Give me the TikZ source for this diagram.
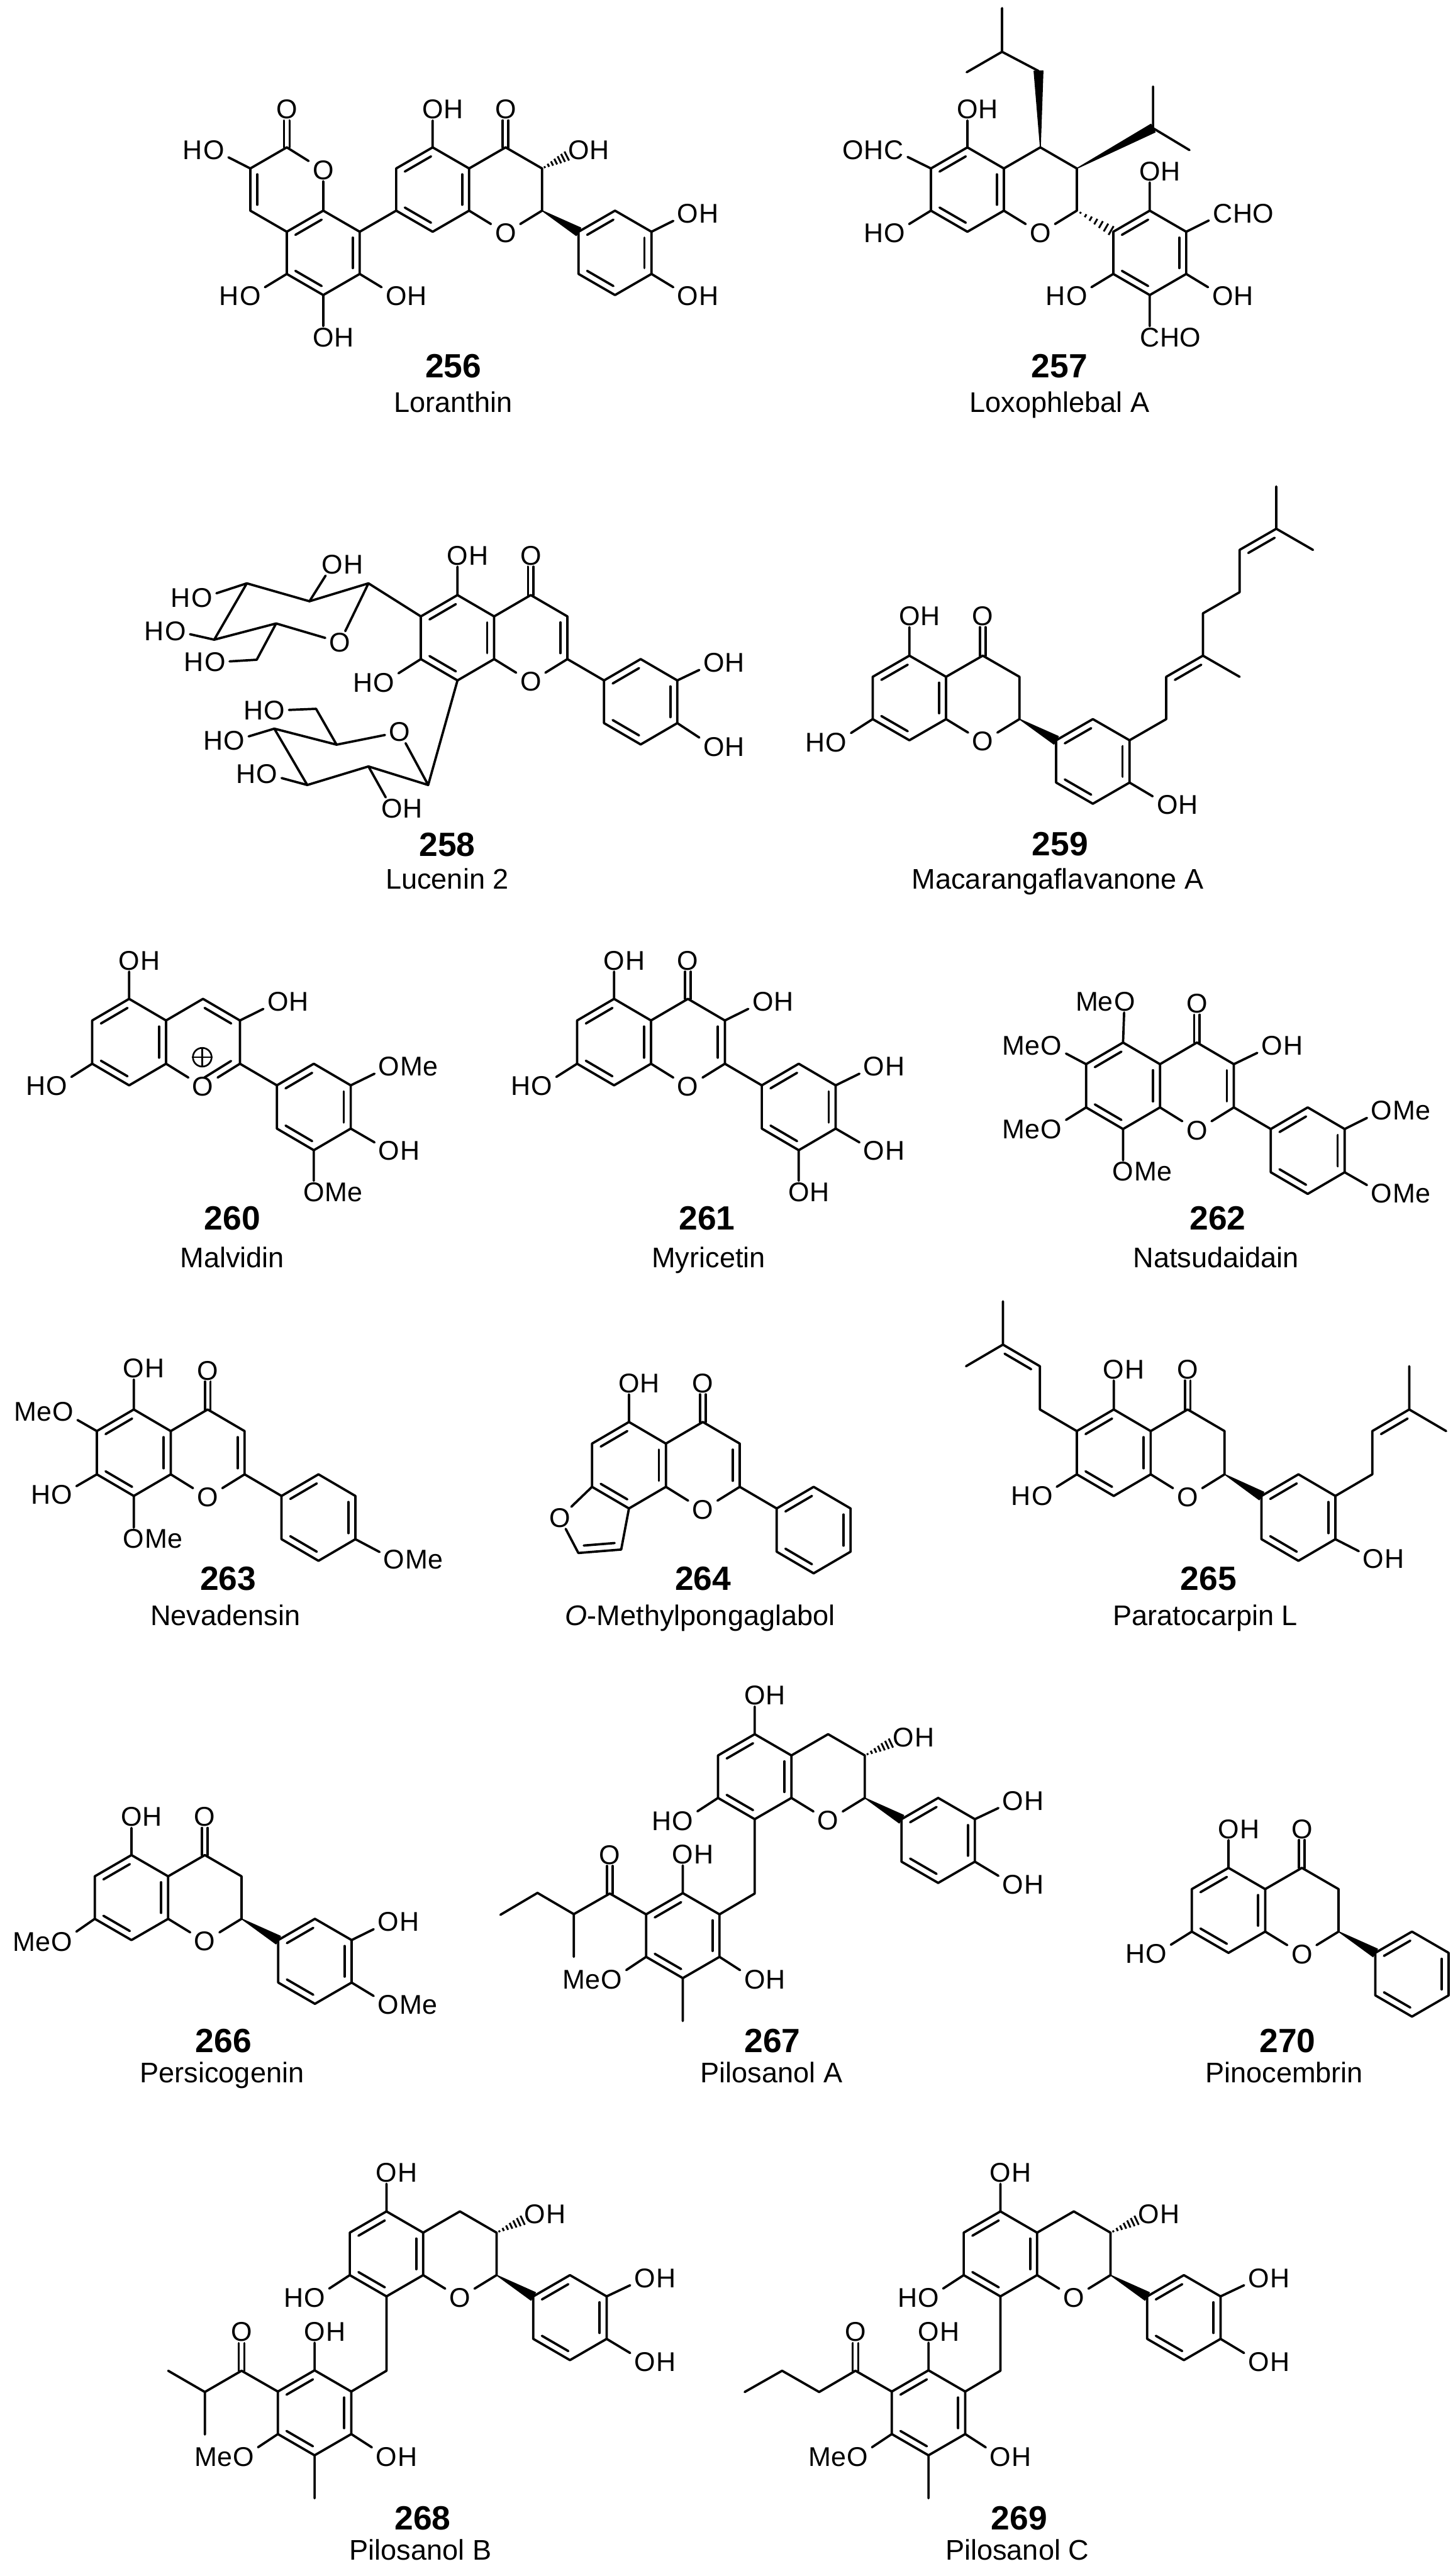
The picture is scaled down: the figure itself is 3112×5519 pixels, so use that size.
\documentclass[tikz,border=0pt]{standalone}
\usepackage{fontspec}
\setmainfont{Liberation Sans}
\usetikzlibrary{calc}
\newcommand{\atomfont}{\fontsize{14.5}{16}\selectfont}
\tikzset{
  bond/.style={line width=1.25pt,line cap=round,line join=round},
  hash/.style={line width=1pt},
  atom/.style={font=\atomfont,inner xsep=2pt,inner ysep=.6pt},
  atomlab/.style={font=\atomfont,inner sep=0pt},
  numlab/.style={font=\fontsize{18}{20}\selectfont\bfseries,anchor=base,inner sep=0pt},
  namelab/.style={font=\fontsize{15.2}{17}\selectfont,anchor=base,inner sep=0pt},
  latA/.style={x=19.53pt,y=-11.3pt},
  latB/.style={x=19.78pt,y=-11.58pt},
  latC/.style={x=19.62pt,y=-11.43pt},
  latD/.style={x=19.65pt,y=-11.33pt},
  latE/.style={x=19.65pt,y=-11.38pt}
}
\newcommand{\atm}[3]{\node at (#2) [atom] (#1) {#3};}
\newcommand{\rtxt}[2]{\node at (#1.base east) [atomlab,anchor=base west,xshift=-2pt] (#1r) {#2};}
\newcommand{\ltxt}[2]{\node at (#1.base west) [atomlab,anchor=base east,xshift=2pt] (#1l) {#2};}
\newcommand{\OH}[2]{\atm{#1}{#2}{O}\rtxt{#1}{H}}
\newcommand{\HO}[2]{\atm{#1}{#2}{O}\ltxt{#1}{H}}
\newcommand{\OMe}[2]{\atm{#1}{#2}{O}\rtxt{#1}{Me}}
\newcommand{\MeO}[2]{\atm{#1}{#2}{O}\ltxt{#1}{Me}}
\newcommand{\CHO}[2]{\atm{#1}{#2}{C}\rtxt{#1}{HO}}
\newcommand{\OHC}[2]{\atm{#1}{#2}{C}\ltxt{#1}{OH}}
\newcommand{\dbl}[2]{\draw[bond] ($(#1)!.14!(#2)!3.75pt!-90:(#2)$) -- ($(#2)!.14!(#1)!3.75pt!90:(#1)$);}
\newcommand{\cdo}[2]{%
  \draw[bond,transform canvas={xshift=1.5pt}] (#1) -- (#2);
  \draw[bond,transform canvas={xshift=-1.5pt}] (#1) -- (#2);}
\newcommand{\wedgeb}[2]{\filldraw[bond,line width=.5pt] (#1) -- ($(#2)!2.4pt!90:(#1)$) -- ($(#2)!2.4pt!-90:(#1)$) -- cycle;}
\newcommand{\hashb}[3]{%
  \foreach \t/\w in {.1/.5pt,.24/.9pt,.38/1.3pt,.52/1.7pt,.66/2.1pt,.8/2.4pt,.94/2.7pt}
    \draw[hash] ($(#1)!#3*\t!(#2)!\w!90:(#2)$) -- ($(#1)!#3*\t!(#2)!\w!-90:(#2)$);}
\newcommand{\benzene}[2]{%
  \begin{scope}[shift={(#2)}]
    \coordinate (#11) at (0,0);
    \coordinate (#12) at (1,1);
    \coordinate (#13) at (1,3);
    \coordinate (#14) at (0,4);
    \coordinate (#15) at (-1,3);
    \coordinate (#16) at (-1,1);
  \end{scope}
  \draw[bond] (#11) -- (#12) -- (#13) -- (#14) -- (#15) -- (#16) -- cycle;
  \dbl{#16}{#11} \dbl{#12}{#13} \dbl{#14}{#15}}
\newcommand{\chroman}{%
  \benzene{a}{0,0}
  \coordinate (c4) at (2,0);
  \coordinate (c3) at (3,1);
  \coordinate (c2) at (3,3);
  \atm{o1}{2,4.06}{O}
  \draw[bond] (a2) -- (c4) -- (c3) -- (c2) -- (o1) -- (a3);}
\newcommand{\ketone}[1]{\atm{o4}{2,#1}{O} \cdo{c4}{o4}}
\newcommand{\pilosanol}{%
  \chroman
  \benzene{b}{5,3}
  \wedgeb{c2}{b6}
  \OH{o5}{0,-1.82}
  \OH{o3}{4.05,.14}
  \hashb{c3}{o3}{.72}
  \HO{o7}{-1.96,4.08}
  \OH{o3p}{7.04,3.15}
  \OH{o4p}{7.04,7.08}
  \draw[bond] (a1) -- (o5) (a5) -- (o7) (b2) -- (o3p) (b3) -- (o4p);
  \coordinate (e1) at (0,7.5);
  \benzene{d}{-1.96,7.48}
  \coordinate (m1) at (-1.96,13.5);
  \coordinate (k1) at (-3.95,7.5);
  \OH{o2d}{-1.96,5.66}
  \OH{o6d}{0,11.55}
  \MeO{o4d}{-3.9,11.56}
  \atm{ok}{-3.95,5.68}{O}
  \cdo{k1}{ok}
  \draw[bond] (a4) -- (e1) -- (d2) (d1) -- (o2d) (d3) -- (o6d) (d5) -- (o4d) (d4) -- (m1) (d6) -- (k1);}

\begin{document}
\begin{tikzpicture}[x=.25pt,y=-.25pt]
  \useasboundingbox (0,0) rectangle (3112,5519);

  % Loranthin
  \begin{scope}[shift={(926.8,315.7)},latA,name prefix=m256-]
    \chroman
    \benzene{b}{5,3}
    \wedgeb{c2}{b6}
    \ketone{-1.8}
    \OH{o5}{0,-1.8}
    \OH{o3}{4,.13}
    \hashb{c3}{o3}{.72}
    \OH{o3p}{7,3.14}
    \OH{o4p}{7,7.05}
    \draw[bond] (a1) -- (o5) (b2) -- (o3p) (b3) -- (o4p);
    \benzene{d}{-3,3}
    \coordinate (e1) at (-4,0);
    \coordinate (e2) at (-5,1);
    \coordinate (e3) at (-5,3);
    \atm{o1d}{-3,1.08}{O}
    \atm{o2d}{-4,-1.8}{O}
    \HO{o3d}{-6,.12}
    \HO{o5d}{-5,7.05}
    \OH{o6d}{-3,9}
    \OH{o7d}{-1,7.05}
    \draw[bond] (a5) -- (d2) (d1) -- (o1d) -- (e1) -- (e2) -- (e3) -- (d6);
    \draw[bond] (e2) -- (o3d) (d5) -- (o5d) (d4) -- (o6d) (d3) -- (o7d);
    \dbl{e3}{e2}
    \cdo{e1}{o2d}
  \end{scope}
  \node at (971,809) [numlab] (n256) {256};
  \node at (971,883) [namelab] (t256) {Loranthin};

  % Loxophlebal A
  \begin{scope}[shift={(2072.3,315.7)},latA,name prefix=m257-]
    \chroman
    \benzene{b}{5,3}
    \hashb{c2}{b6}{1}
    \OH{o5}{0,-1.8}
    \OHC{f6}{-2.02,.13}
    \HO{o7}{-2,4.06}
    \OH{o2p}{5,1.14}
    \CHO{f3p}{7,3.14}
    \OH{o4p}{7,7.05}
    \CHO{f5p}{5,9}
    \HO{o6p}{3,7.05}
    \draw[bond] (a1) -- (o5) (a6) -- (f6) (a5) -- (o7);
    \draw[bond] (b1) -- (o2p) (b2) -- (f3p) (b3) -- (o4p) (b4) -- (f5p) (b5) -- (o6p);
    \coordinate (p1) at (1.95,-3.62);
    \coordinate (p2) at (.95,-4.53);
    \coordinate (p3) at (.95,-6.6);
    \coordinate (p4) at (-.02,-3.56);
    \wedgeb{c4}{p1}
    \draw[bond] (p1) -- (p2) -- (p3) (p2) -- (p4);
    \coordinate (q1) at (5.09,-.91);
    \coordinate (q2) at (5.09,-2.88);
    \coordinate (q3) at (6.09,.13);
    \wedgeb{c3}{q1}
    \draw[bond] (q2) -- (q1) -- (q3);
  \end{scope}
  \node at (2269.6,809) [numlab] (n257) {257};
  \node at (2269.6,883) [namelab] (t257) {Loxophlebal A};

  % Lucenin 2
  \begin{scope}[shift={(980,1274.9)},latC,name prefix=m258-]
    \chroman
    \benzene{b}{5,3}
    \dbl{c3}{c2}
    \ketone{-1.85}
    \OH{o5}{0,-1.85}
    \HO{o7}{-2.01,4.1}
    \OH{o3p}{7,3.18}
    \OH{o4p}{7,7.13}
    \draw[bond] (c2) -- (b6) (a1) -- (o5) (a5) -- (o7) (b2) -- (o3p) (b3) -- (o4p);
    \coordinate (s1) at (-2.43,-.55);
    \coordinate (s2) at (-4.04,.29);
    \coordinate (s3) at (-5.75,-.55);
    \coordinate (s4) at (-6.64,2.09);
    \coordinate (s5) at (-4.95,1.33);
    \coordinate (s6) at (-5.48,3.03);
    \atm{os}{-3.21,2.21}{O}
    \HO{o6s}{-6.62,3.15}
    \OH{o2s}{-3.41,-1.43}
    \HO{o3s}{-6.98,.14}
    \HO{o4s}{-7.7,1.68}
    \draw[bond] (a6) -- (s1) -- (s2) -- (s3) -- (s4) -- (s5) -- (os) -- (s1) (s5) -- (s6) -- (o6s);
    \draw[bond] (s2) -- (o2s) (s3) -- (o3s) (s4) -- (o4s);
    \coordinate (t1) at (-.8,8.9);
    \coordinate (t2) at (-2.43,8.03);
    \coordinate (t3) at (-4.1,8.9);
    \coordinate (t4) at (-5,6.26);
    \coordinate (t5) at (-3.3,7.01);
    \coordinate (t6) at (-3.86,5.33);
    \atm{ot}{-1.58,6.42}{O}
    \HO{o6t}{-5,5.41}
    \HO{o4t}{-6.1,6.83}
    \HO{o3t}{-5.2,8.39}
    \OH{o2t}{-1.79,10}
    \draw[bond] (a4) -- (t1) -- (t2) -- (t3) -- (t4) -- (t5) -- (ot) -- (t1) (t5) -- (t6) -- (o6t);
    \draw[bond] (t4) -- (o4t) (t3) -- (o3t) (t2) -- (o2t);
  \end{scope}
  \node at (958,1834) [numlab] (n258) {258};
  \node at (958,1904) [namelab] (t258) {Lucenin 2};

  % Macarangaflavanone A
  \begin{scope}[shift={(1948,1404.7)},latD,name prefix=m259-]
    \chroman
    \benzene{b}{5,3}
    \wedgeb{c2}{b6}
    \ketone{-1.87}
    \OH{o5}{0,-1.87}
    \HO{o7}{-1.99,4.1}
    \OH{o4p}{7.03,7.06}
    \draw[bond] (a1) -- (o5) (a5) -- (o7) (b3) -- (o4p);
    \coordinate (p1) at (7,3);
    \coordinate (p2) at (7,1);
    \coordinate (p3) at (8,0);
    \coordinate (p4) at (9,1);
    \coordinate (p5) at (8,-2);
    \coordinate (p6) at (9,-3);
    \coordinate (p7) at (9,-5);
    \coordinate (p8) at (10,-6);
    \coordinate (p9) at (10,-8);
    \coordinate (p10) at (11,-5);
    \draw[bond] (b2) -- (p1) -- (p2) -- (p3) -- (p5) -- (p6) -- (p7) -- (p8) -- (p9) (p3) -- (p4) (p8) -- (p10);
    \dbl{p2}{p3}
    \dbl{p7}{p8}
  \end{scope}
  \node at (2271,1833.5) [numlab] (n259) {259};
  \node at (2266,1904) [namelab] (t259) {Macarangaflavanone A};

  % Malvidin
  \begin{scope}[shift={(276.6,2140)},latB,name prefix=m260-]
    \chroman
    \benzene{b}{5,3}
    \dbl{c4}{c3}
    \dbl{c2}{o1}
    \node at (1.98,2.7) [circle,draw,line width=.9pt,inner sep=0pt,minimum size=10pt] (plus) {};
    \draw[line width=.9pt] (plus.north) -- (plus.south) (plus.west) -- (plus.east);
    \OH{o5}{0,-1.77}
    \OH{o3}{4.03,.13}
    \HO{o7}{-1.96,4.04}
    \OMe{o3p}{7.04,3.13}
    \OH{o4p}{7.04,7.03}
    \OMe{o5p}{5,8.93}
    \draw[bond] (c2) -- (b6) (a1) -- (o5) (c3) -- (o3) (a5) -- (o7) (b2) -- (o3p) (b3) -- (o4p) (b4) -- (o5p);
  \end{scope}
  \node at (497.5,2634.6) [numlab] (n260) {260};
  \node at (497.5,2716) [namelab] (t260) {Malvidin};

  % Myricetin
  \begin{scope}[shift={(1315.4,2140)},latB,name prefix=m261-]
    \chroman
    \benzene{b}{5,3}
    \dbl{c3}{c2}
    \ketone{-1.77}
    \OH{o5}{0,-1.77}
    \OH{o3}{4.03,.13}
    \HO{o7}{-1.96,4.04}
    \OH{o3p}{7.04,3.13}
    \OH{o4p}{7.04,7.03}
    \OH{o5p}{5,8.93}
    \draw[bond] (c2) -- (b6) (a1) -- (o5) (c3) -- (o3) (a5) -- (o7) (b2) -- (o3p) (b3) -- (o4p) (b4) -- (o5p);
  \end{scope}
  \node at (1514.5,2634.6) [numlab] (n261) {261};
  \node at (1518,2716) [namelab] (t261) {Myricetin};

  % Natsudaidain
  \begin{scope}[shift={(2405.7,2233.6)},latB,name prefix=m262-]
    \chroman
    \benzene{b}{5,3}
    \dbl{c3}{c2}
    \ketone{-1.8}
    \MeO{o5}{.04,-1.9}
    \MeO{o6}{-1.94,.15}
    \MeO{o7}{-1.94,4}
    \OMe{o8}{0,5.96}
    \OH{o3}{4.03,.15}
    \OMe{o3p}{7,3.15}
    \OMe{o4p}{7,6.98}
    \draw[bond] (c2) -- (b6) (a1) -- (o5) (a6) -- (o6) (a5) -- (o7) (a4) -- (o8) (c3) -- (o3) (b2) -- (o3p) (b3) -- (o4p);
  \end{scope}
  \node at (2608.7,2634.6) [numlab] (n262) {262};
  \node at (2605,2716) [namelab] (t262) {Natsudaidain};

  % Nevadensin
  \begin{scope}[shift={(286.6,3019.7)},latB,name prefix=m263-]
    \chroman
    \benzene{b}{5,3}
    \dbl{c3}{c2}
    \ketone{-1.8}
    \OH{o5}{0,-1.9}
    \MeO{o6}{-1.92,.1}
    \HO{o7}{-1.95,3.94}
    \OMe{o8}{0,5.98}
    \OMe{o4p}{7.05,6.95}
    \draw[bond] (c2) -- (b6) (a1) -- (o5) (a6) -- (o6) (a5) -- (o7) (a4) -- (o8) (b3) -- (o4p);
  \end{scope}
  \node at (488.6,3406.7) [numlab] (n263) {263};
  \node at (482.6,3482) [namelab] (t263) {Nevadensin};

  % O-Methylpongaglabol
  \begin{scope}[shift={(1347.3,3046.5)},latB,name prefix=m264-]
    \chroman
    \benzene{b}{5,3}
    \dbl{c3}{c2}
    \ketone{-1.79}
    \OH{o5}{0,-1.79}
    \atm{of}{-1.87,4.43}{O}
    \coordinate (f1) at (-1.37,6.06);
    \coordinate (f2) at (-.21,5.9);
    \draw[bond] (c2) -- (b6) (a1) -- (o5) (a5) -- (of) -- (f1) -- (f2) -- (a4);
    \dbl{f2}{f1}
  \end{scope}
  \node at (1506,3406.7) [numlab] (n264) {264};
  \node at (1500,3482) [namelab] (t264) {\textit{O}-Methylpongaglabol};

  % Paratocarpin L
  \begin{scope}[shift={(2385.8,3019.7)},latB,name prefix=m265-]
    \chroman
    \benzene{b}{5,3}
    \wedgeb{c2}{b6}
    \ketone{-1.85}
    \OH{o5}{0,-1.85}
    \HO{o7}{-1.94,4}
    \OH{o4p}{7.03,6.9}
    \draw[bond] (a1) -- (o5) (a5) -- (o7) (b3) -- (o4p);
    \coordinate (p1) at (-2,0);
    \coordinate (p2) at (-2,-2);
    \coordinate (p3) at (-3,-3);
    \coordinate (p4) at (-3,-5);
    \coordinate (p5) at (-4,-2);
    \draw[bond] (a6) -- (p1) -- (p2) -- (p3) -- (p4) (p3) -- (p5);
    \dbl{p3}{p2}
    \coordinate (q1) at (7,3);
    \coordinate (q2) at (7,1);
    \coordinate (q3) at (8,0);
    \coordinate (q4) at (8,-2);
    \coordinate (q5) at (9,1);
    \draw[bond] (b2) -- (q1) -- (q2) -- (q3) -- (q4) (q3) -- (q5);
    \dbl{q2}{q3}
  \end{scope}
  \node at (2588.8,3406.7) [numlab] (n265) {265};
  \node at (2582,3482) [namelab] (t265) {Paratocarpin L};

  % Persicogenin
  \begin{scope}[shift={(281.6,3974.4)},latE,name prefix=m266-]
    \chroman
    \benzene{b}{5,3}
    \wedgeb{c2}{b6}
    \ketone{-1.8}
    \OH{o5}{0,-1.8}
    \MeO{o7}{-1.9,4.08}
    \OH{o3p}{7,3.15}
    \OMe{o4p}{7,7.05}
    \draw[bond] (a1) -- (o5) (a5) -- (o7) (b2) -- (o3p) (b3) -- (o4p);
  \end{scope}
  \node at (478.6,4397) [numlab] (n266) {266};
  \node at (475.6,4462) [namelab] (t266) {Persicogenin};

  % Pilosanol A
  \begin{scope}[shift={(1616.7,3715.4)},latE,name prefix=m267-]
    \pilosanol
    \coordinate (k2) at (-4.93,8.47);
    \coordinate (k3) at (-4.93,10.48);
    \coordinate (k4) at (-5.92,7.47);
    \coordinate (k5) at (-6.93,8.5);
    \draw[bond] (k1) -- (k2) -- (k3) (k2) -- (k4) -- (k5);
  \end{scope}
  \node at (1654.5,4397) [numlab] (n267) {267};
  \node at (1652.6,4462) [namelab] (t267) {Pilosanol A};

  % Pinocembrin
  \begin{scope}[shift={(2631.6,4001.8)},latE,name prefix=m270-]
    \chroman
    \benzene{b}{5,3}
    \wedgeb{c2}{b6}
    \ketone{-1.83}
    \OH{o5}{0,-1.83}
    \HO{o7}{-1.97,4.05}
    \draw[bond] (a1) -- (o5) (a5) -- (o7);
  \end{scope}
  \node at (2758,4397) [numlab] (n270) {270};
  \node at (2751,4462) [namelab] (t270) {Pinocembrin};

  % Pilosanol B
  \begin{scope}[shift={(827.9,4737.8)},latE,name prefix=m268-]
    \pilosanol
    \coordinate (k2) at (-4.95,8.5);
    \coordinate (k3) at (-4.95,10.5);
    \coordinate (k4) at (-5.95,7.5);
    \draw[bond] (k1) -- (k2) -- (k3) (k2) -- (k4);
  \end{scope}
  \node at (905.5,5419.5) [numlab] (n268) {268};
  \node at (900.5,5485) [namelab] (t268) {Pilosanol B};

  % Pilosanol C
  \begin{scope}[shift={(2143,4737.8)},latE,name prefix=m269-]
    \pilosanol
    \coordinate (k2) at (-4.94,8.5);
    \coordinate (k3) at (-5.95,7.5);
    \coordinate (k4) at (-6.97,8.5);
    \draw[bond] (k1) -- (k2) -- (k3) -- (k4);
  \end{scope}
  \node at (2183,5419.5) [numlab] (n269) {269};
  \node at (2179,5485) [namelab] (t269) {Pilosanol C};
\end{tikzpicture}
\end{document}
